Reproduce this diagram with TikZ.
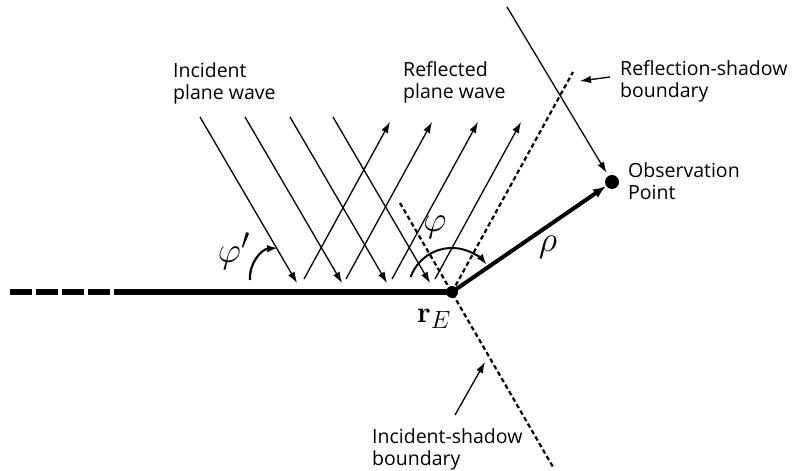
\documentclass[tikz,border=0pt]{standalone}
\usepackage[no-math]{fontspec}
\setmainfont{Open Sans}
\usepackage{tikz}
\usetikzlibrary{arrows.meta,positioning,calc}

\begin{document}
\begin{tikzpicture}[x=1pt,y=1pt,
    ray/.style={line width=1.3pt},
    tip/.style={-{Latex[length=11pt,width=7.5pt]}},
    bound/.style={line width=2.2pt,dash pattern=on 4.5pt off 3pt},
    lbl/.style={align=left,inner sep=0pt,anchor=north west,font=\fontsize{19.5}{21.5}\selectfont},
    sym/.style={inner sep=0pt,font=\fontsize{24.88}{26}\selectfont,scale=#1},
    dot/.style={circle,fill=black,inner sep=0pt,minimum size=#1}]
  \useasboundingbox (0,0) rectangle (793,471);
  % half-plane and its edge
  \node[dot=12pt] (rE) at (452,179) {};
  \coordinate (edgeL) at (10,179);
  \coordinate (edgeM) at (114,179);
  \draw[line width=5.5pt,dash pattern=on 21.5pt off 4.5pt] (edgeL) -- (edgeM);
  \draw[line width=5.5pt] (edgeM) -- (rE.center);
  % observation point
  \node[dot=14pt] (obs) at (612,289) {};
  \draw[line width=4pt,-{Latex[length=13pt,width=10pt]}] (rE.center) -- (obs);
  \coordinate (obsS) at (507,464);
  \draw[ray,tip,shorten >=3.5pt] (obsS) -- (obs);
  % incident plane wave
  \foreach \x [count=\i] in {297,342,387,430}{
    \coordinate (inE\i) at (\x,188);
    \coordinate (inS\i) at ($(inE\i)+(-97,166)$);
    \draw[ray,tip] (inS\i) -- (inE\i);}
  % reflected plane wave
  \foreach \x [count=\i] in {304,346,392,435}{
    \coordinate (reS\i) at (\x,192);
    \coordinate (reE\i) at ($(reS\i)+(86,157)$);
    \draw[ray,tip] (reS\i) -- (reE\i);}
  % shadow boundaries
  \coordinate (rsb) at (573,399);
  \draw[bound] (rE.center) -- (rsb);
  \coordinate (isbT) at (400,268);
  \coordinate (isbB) at (553,4);
  \draw[bound] (isbT) -- (isbB);
  % angles
  \draw[line width=2pt,tip] ($(rE)+(160:44)$) arc[start angle=160,end angle=38,radius=44];
  \coordinate (pa) at (250,191);
  \coordinate (pb) at (278,223);
  \draw[line width=2.2pt,tip] (pa) to[bend left=45] (pb);
  % labels
  \node[lbl] (inc) at (173,408.5) {Incident\\plane wave};
  \node[lbl] (refl) at (403,409.5) {Reflected\\plane wave};
  \node[lbl] (rsbl) at (620,410.5) {Reflection-shadow\\boundary};
  \node[lbl] (obsl) at (628,308.5) {Observation\\Point};
  \node[lbl] (isbl) at (372,42.5) {Incident-shadow\\boundary};
  \coordinate (rsbA) at (610,394);
  \coordinate (rsbB) at (580,390);
  \draw[ray,tip] (rsbA) -- (rsbB);
  \coordinate (isbA) at (455,56);
  \coordinate (isbC) at (485,109);
  \draw[ray,tip] (isbA) -- (isbC);
  \node[sym=1.45] (phip) at (234,220) {$\varphi'$};
  \node[sym=1.45] (phi) at (435,244) {$\varphi$};
  \node[sym=1.45] (rho) at (548,224) {$\rho$};
  \node[sym=1.2] (rEl) at (434,152) {$\mathbf{r}_E$};
\end{tikzpicture}
\end{document}
